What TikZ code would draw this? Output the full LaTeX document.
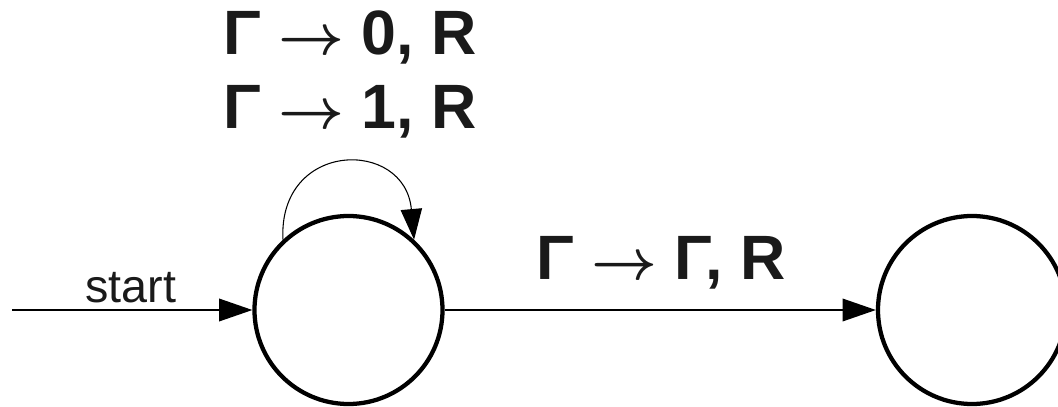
\documentclass[tikz,border=0pt]{standalone}
\usepackage{graphicx}
\usepackage{fontspec}
\setmainfont{Liberation Sans}
\usetikzlibrary{arrows.meta}
\definecolor{txt}{HTML}{1A1A1A}
\newcommand{\myarr}{\scalebox{4.3}{\fontsize{10}{12}\selectfont\boldmath$\rightarrow$}}
\tikzset{
  statebox/.style={draw=black, circle, line width=3.2pt, minimum size=141pt, inner sep=0pt},
  edge/.style={draw=black, line width=1.1pt, -{Triangle[length=25pt,width=17pt]}},
  loopedge/.style={draw=black, line width=0.8pt, -{Triangle[length=23pt,width=16pt]}},
  biglabel/.style={text=txt, font=\fontsize{47}{54}\selectfont\bfseries, anchor=base, inner sep=0pt},
  startlabel/.style={text=txt, font=\fontsize{35}{40}\selectfont, anchor=base, inner sep=0pt}
}
\begin{document}
\begin{tikzpicture}[x=0.75pt, y=-0.75pt]
\useasboundingbox (0,0) rectangle (1058,407);
\node[statebox] (q0) at (348.5,310) {};
\node[statebox] (q1) at (972,310) {};
\coordinate (s) at (12,310);
\draw[edge] (s) -- (q0.west);
\draw[edge] (q0.east) -- (q1.west);
\draw[loopedge] (q0.133) .. controls (278,140) and (405,138) .. (q0.47);
\node[startlabel] (lstart) at (131,302) {start};
\node[biglabel] (l1) at (350,55) {Γ \myarr{} 0, R};
\node[biglabel] (l2) at (350,128) {Γ \myarr{} 1, R};
\node[biglabel] (l3) at (661,279) {Γ \myarr{} Γ, R};
\end{tikzpicture}
\end{document}
